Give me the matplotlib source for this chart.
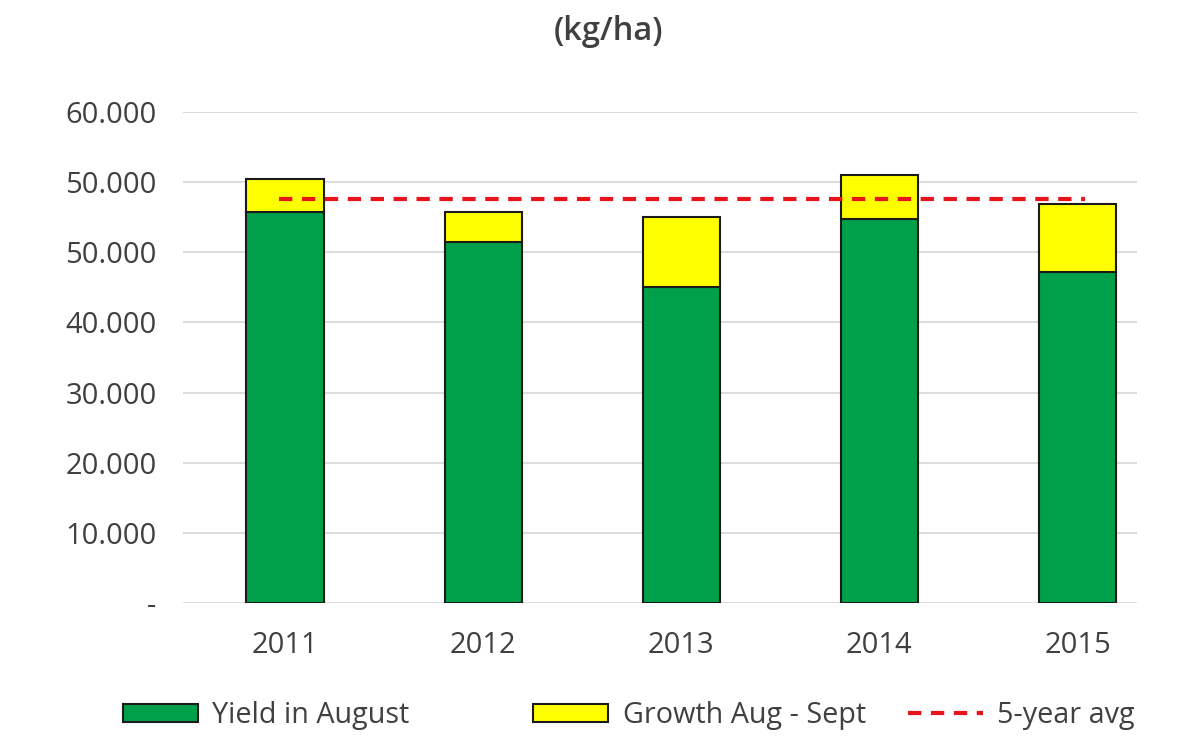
import matplotlib
matplotlib.use("Agg")
import matplotlib.pyplot as plt
import numpy as np
from matplotlib.patches import Patch
from matplotlib.lines import Line2D

# dados (kg/ha)
anos = ['2011', '2012', '2013', '2014', '2015']
yield_agosto = [55700, 51400, 45100, 54700, 47150]
crescimento = [4750, 4300, 9900, 6300, 9700]
media_5anos = 57550

# rotulos do eixo y como aparecem na imagem
y_ticks = [0, 10000, 20000, 30000, 40000, 50000, 60000, 70000]
y_labels = ['-', '10.000', '20.000', '30.000', '40.000', '50.000', '50.000', '60.000']

plt.rcParams['font.family'] = ['Open Sans', 'DejaVu Sans']
cinza = '#404040'
verde = '#00A04A'
amarelo = '#FFFF00'
vermelho = '#E8141A'

fig = plt.figure(figsize=(12, 7.43), dpi=100)
ax = fig.add_axes([0.1525, 0.1884, 0.795, 0.6609])

x = np.arange(len(anos))
largura = 0.39
ax.bar(x, yield_agosto, largura, color=verde, edgecolor='#1a1a1a', linewidth=1.5, zorder=3)
ax.bar(x, crescimento, largura, bottom=yield_agosto, color=amarelo, edgecolor='#1a1a1a', linewidth=1.5, zorder=3)
ax.plot([x[0] - 0.03, x[-1] + 0.04], [media_5anos, media_5anos], color=vermelho, lw=3,
        dashes=(3.2, 2.3), zorder=4)

ax.set_ylim(0, 70000)
ax.set_xlim(-0.515, 4.30)
ax.set_yticks(y_ticks)
ax.set_yticklabels(y_labels)
ax.set_xticks(x)
ax.set_xticklabels(anos)
ax.tick_params(axis='both', length=0, labelsize=21, labelcolor=cinza)
ax.tick_params(axis='y', pad=19)
ax.tick_params(axis='x', pad=20)
ax.grid(axis='y', color='#d9d9d9', lw=1.3, zorder=0)
ax.set_axisbelow(True)
for s in ax.spines.values():
    s.set_visible(False)

fig.text(0.507, 0.958, '(kg/ha)', ha='center', va='center', fontsize=23.5,
         color=cinza, fontweight='semibold')

# legenda em tres partes, como no original
entradas = [
    (Patch(facecolor=verde, edgecolor='#1a1a1a', linewidth=1.5), 'Yield in August', 0.1025),
    (Patch(facecolor=amarelo, edgecolor='#1a1a1a', linewidth=1.5), 'Growth Aug - Sept', 0.4445),
    (Line2D([], [], color=vermelho, lw=3, dashes=(3.2, 2.3)), '5-year avg', 0.7565),
]
for h, txt, xpos in entradas:
    leg = fig.legend([h], [txt], loc='center left', bbox_to_anchor=(xpos, 0.037),
                     frameon=False, fontsize=20.7, handlelength=2.6, handleheight=0.6,
                     handletextpad=0.5, borderpad=0, borderaxespad=0)
    for t in leg.get_texts():
        t.set_color(cinza)

fig.savefig('out.png', dpi=100, facecolor='white')
